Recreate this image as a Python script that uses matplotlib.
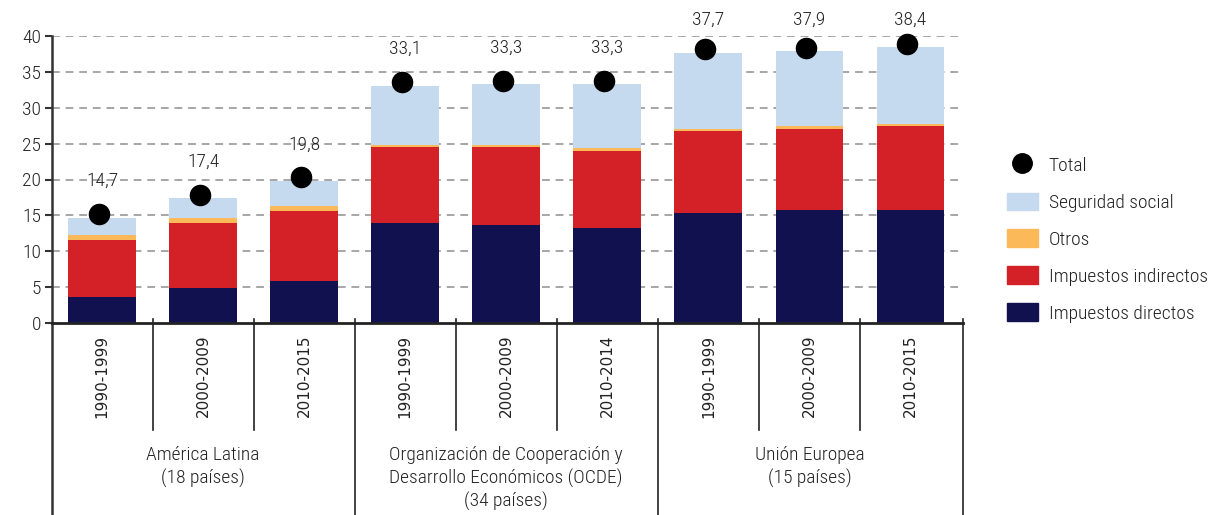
import matplotlib
matplotlib.use('Agg')
import matplotlib.pyplot as plt
import matplotlib.transforms as mtransforms
from matplotlib.patches import Patch
from matplotlib.lines import Line2D

plt.rcParams['font.family'] = ['Roboto Condensed', 'Barlow Semi Condensed', 'Roboto', 'DejaVu Sans']
plt.rcParams['font.weight'] = 'light'

periodos = ['1990-1999', '2000-2009', '2010-2015',
            '1990-1999', '2000-2009', '2010-2014',
            '1990-1999', '2000-2009', '2010-2015']
grupos = ['América Latina\n(18 países)',
          'Organización de Cooperación y\nDesarrollo Económicos (OCDE)\n(34 países)',
          'Unión Europea\n(15 países)']
directos = [3.6, 4.9, 5.9, 14.0, 13.7, 13.3, 15.4, 15.7, 15.7]
indirectos = [8.0, 9.0, 9.7, 10.5, 10.8, 10.7, 11.3, 11.4, 11.7]
otros = [0.6, 0.7, 0.7, 0.3, 0.3, 0.4, 0.3, 0.4, 0.4]
seguridad = [2.5, 2.8, 3.5, 8.3, 8.5, 8.9, 10.7, 10.4, 10.6]
total = [14.7, 17.4, 19.8, 33.1, 33.3, 33.3, 37.7, 37.9, 38.4]

c_dir = '#11114f'
c_ind = '#d42027'
c_otr = '#fbb95a'
c_seg = '#c5d9ef'

fig = plt.figure(figsize=(12.11, 5.15), dpi=100)
ax = fig.add_axes([52 / 1211, (515 - 323) / 515, (963 - 52) / 1211, 287 / 515])

x = list(range(len(periodos)))
w = 0.67
b1 = directos
b2 = [a + b for a, b in zip(b1, indirectos)]
b3 = [a + b for a, b in zip(b2, otros)]
ax.bar(x, directos, w, color=c_dir, zorder=2)
ax.bar(x, indirectos, w, bottom=b1, color=c_ind, zorder=2)
ax.bar(x, otros, w, bottom=b2, color=c_otr, zorder=2)
ax.bar(x, seguridad, w, bottom=b3, color=c_seg, zorder=2)

# puntos de total (un poco por encima, como en el original)
off = mtransforms.offset_copy(ax.transData, fig=fig, x=-3, y=3.5, units='dots')
ax.plot(x, total, 'o', color='black', markersize=14.5, transform=off, zorder=4, clip_on=False)
for xi, t in zip(x, total):
    ax.text(xi, min(t + 5.1, 42.2), f'{t:.1f}'.replace('.', ','), ha='center', va='center',
            fontsize=14, color='#222222', clip_on=False)

ax.set_xlim(-0.495, 8.52)
ax.set_ylim(0, 40)
ax.set_yticks(range(0, 41, 5))
ax.tick_params(axis='y', labelsize=14, length=5, width=1.5, color='#333333', pad=3, labelcolor='#222222')
ax.set_xticks([])
for yv in range(5, 41, 5):
    ax.axhline(yv, color='#a6a6a6', lw=1.4, ls=(0, (4, 3)), zorder=1)
for s in ['top', 'right']:
    ax.spines[s].set_visible(False)
ax.spines['left'].set_color('#333333')
ax.spines['left'].set_linewidth(1.8)
ax.spines['bottom'].set_color('#222222')
ax.spines['bottom'].set_linewidth(2)

# etiquetas de periodo y separadores
bt = ax.get_xaxis_transform()
for xi, p in zip(x, periodos):
    ax.text(xi, -0.04, p, rotation=90, ha='center', va='top', fontsize=11,
            family='DejaVu Sans', weight='normal', color='#222222', transform=bt)
for xi in x[:-1]:
    edge = xi + 0.5
    if (xi + 1) % 3 == 0:
        ax.plot([edge, edge], [0.015, -0.67], color='#222222', lw=1.2, transform=bt, clip_on=False)
    else:
        ax.plot([edge, edge], [0.015, -0.373], color='#222222', lw=1.2, transform=bt, clip_on=False)
ax.plot([-0.495, -0.495], [0, -0.67], color='#333333', lw=1.8, transform=bt, clip_on=False)
ax.plot([8.52, 8.52], [0.015, -0.67], color='#222222', lw=1.2, transform=bt, clip_on=False)

for gi, g in enumerate(grupos):
    ax.text(gi * 3 + 1, -0.43, g, ha='center', va='top', fontsize=14, color='#222222',
            linespacing=1.3, transform=bt)

handles = [Line2D([], [], marker='o', color='black', ls='none', markersize=14),
           Patch(color=c_seg), Patch(color=c_otr), Patch(color=c_ind), Patch(color=c_dir)]
labels = ['Total', 'Seguridad social', 'Otros', 'Impuestos indirectos', 'Impuestos directos']
fig.legend(handles, labels, loc='upper left', bbox_to_anchor=(997 / 1211, 1 - 146 / 515),
           frameon=False, fontsize=14, labelspacing=0.9, handlelength=1.6, handleheight=1.0,
           handletextpad=0.55, borderpad=0, labelcolor='#222222')

fig.savefig('out.png', dpi=100)
